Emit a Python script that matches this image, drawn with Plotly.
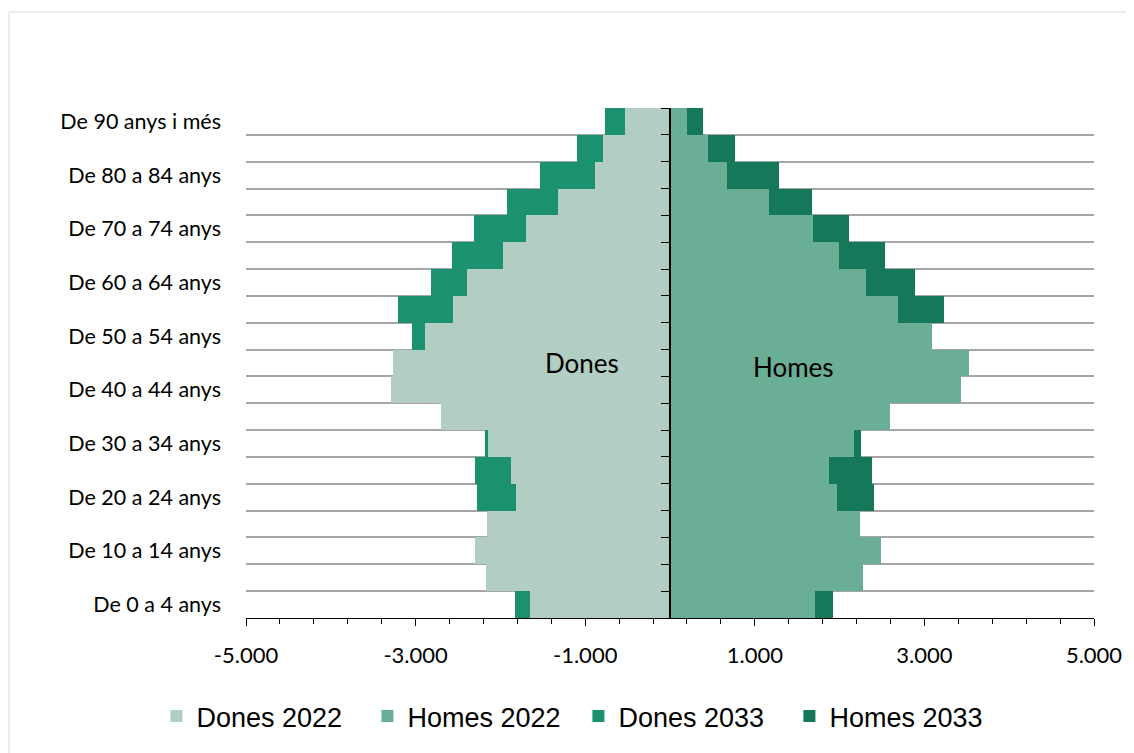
import plotly.graph_objects as go

age_groups = ["De 0 a 4 anys", "De 5 a 9 anys", "De 10 a 14 anys", "De 15 a 19 anys",
              "De 20 a 24 anys", "De 25 a 29 anys", "De 30 a 34 anys", "De 35 a 39 anys",
              "De 40 a 44 anys", "De 45 a 49 anys", "De 50 a 54 anys", "De 55 a 59 anys",
              "De 60 a 64 anys", "De 65 a 69 anys", "De 70 a 74 anys", "De 75 a 79 anys",
              "De 80 a 84 anys", "De 85 a 89 anys", "De 90 anys i més"]

dones_2022 = [-1651, -2169, -2302, -2157, -1820, -1874, -2149, -2706, -3294, -3267,
              -2894, -2561, -2396, -1973, -1698, -1321, -890, -788, -529]
homes_2022 = [1706, 2271, 2486, 2235, 1973, 1875, 2165, 2596, 3432, 3526,
              3086, 2686, 2306, 1992, 1682, 1169, 671, 443, 204]
dones_2033 = [-1824, -1850, -1750, -2120, -2274, -2294, -2184, -2450, -2700, -3000,
              -3039, -3208, -2816, -2576, -2314, -1926, -1533, -1094, -768]
homes_2033 = [1918, 1950, 1800, 2200, 2404, 2380, 2255, 2500, 2900, 3300,
              3050, 3235, 2894, 2533, 2110, 1678, 1286, 769, 392]

x_tickvals = [-5000, -3000, -1000, 1000, 3000, 5000]
x_ticktext = ["-5.000", "-3.000", "-1.000", "1.000", "3.000", "5.000"]

C_D22 = "#b2cec2"
C_H22 = "#6aae96"
C_D33 = "#1b9170"
C_H33 = "#15785b"

idx = list(range(len(age_groups)))
label_idx = idx[::2]
boundaries = [i - 0.5 for i in range(len(age_groups) + 1)]

fig = go.Figure()
for name, vals, col, rank in [("Dones 2033", dones_2033, C_D33, 3),
                              ("Homes 2033", homes_2033, C_H33, 4),
                              ("Dones 2022", dones_2022, C_D22, 1),
                              ("Homes 2022", homes_2022, C_H22, 2)]:
    fig.add_trace(go.Bar(y=idx, x=vals, orientation="h", name=name,
                         marker=dict(color=col, line=dict(width=0)),
                         width=1, legendrank=rank))

# helper trace for the central vertical axis
fig.add_trace(go.Scatter(x=[None], y=[None], yaxis="y2", showlegend=False,
                         hoverinfo="skip"))

fig.update_layout(
    width=1126, height=745,
    paper_bgcolor="white", plot_bgcolor="white",
    margin=dict(l=238, r=38, t=100, b=130),
    barmode="overlay", bargap=0,
    showlegend=True,
    legend=dict(orientation="h", x=0.392, xanchor="center", y=-0.145, yanchor="top",
                font=dict(family="Liberation Sans", size=27, color="#000000"),
                entrywidth=166, entrywidthmode="pixels", traceorder="normal"),
    xaxis=dict(range=[-5000, 5000], domain=[0, 1], tickmode="array",
               tickvals=x_tickvals, ticktext=x_ticktext,
               ticks="outside", ticklen=7, tickwidth=1.3, tickcolor="#000000",
               minor=dict(tick0=-5000, dtick=400, ticks="outside", ticklen=5,
                          tickwidth=1.3, tickcolor="#000000", showgrid=False),
               showline=True, linecolor="#000000", linewidth=1.3,
               showgrid=False, zeroline=False, ticklabelstandoff=10,
               tickfont=dict(family="Lato", size=22, color="#000000"), fixedrange=True),
    yaxis=dict(range=[-0.5, len(age_groups) - 0.5], tickmode="array",
               tickvals=label_idx, ticktext=[age_groups[i] for i in label_idx],
               ticks="", showline=False, showgrid=False, zeroline=False,
               ticklabelstandoff=24,
               minor=dict(tickmode="array", tickvals=boundaries, showgrid=True,
                          gridcolor="#a6a6a6", gridwidth=1.5, ticks=""),
               tickfont=dict(family="Lato", size=21.5, color="#000000"), fixedrange=True),
    yaxis2=dict(range=[-0.5, len(age_groups) - 0.5], overlaying="y", anchor="free",
                position=0.5, side="left", tickmode="array", tickvals=boundaries,
                showticklabels=False, ticks="outside", ticklen=8, tickwidth=1.3,
                tickcolor="#000000", showline=True, linecolor="#000000",
                linewidth=1.5, showgrid=False, zeroline=False, fixedrange=True),
    annotations=[
        dict(x=-1040, y=9, xref="x", yref="y", text="Dones", showarrow=False,
             font=dict(family="Lato", size=26, color="#000000")),
        dict(x=1460, y=8.85, xref="x", yref="y", text="Homes", showarrow=False,
             font=dict(family="Lato", size=26, color="#000000")),
    ],
    shapes=[dict(type="rect", xref="paper", yref="paper",
                 x0=-0.2794, x1=1.06, y0=-0.28, y1=1.1883,
                 line=dict(color="#d9d9d9", width=1), fillcolor="rgba(0,0,0,0)",
                 layer="below")],
)

fig.write_html("out.html")
